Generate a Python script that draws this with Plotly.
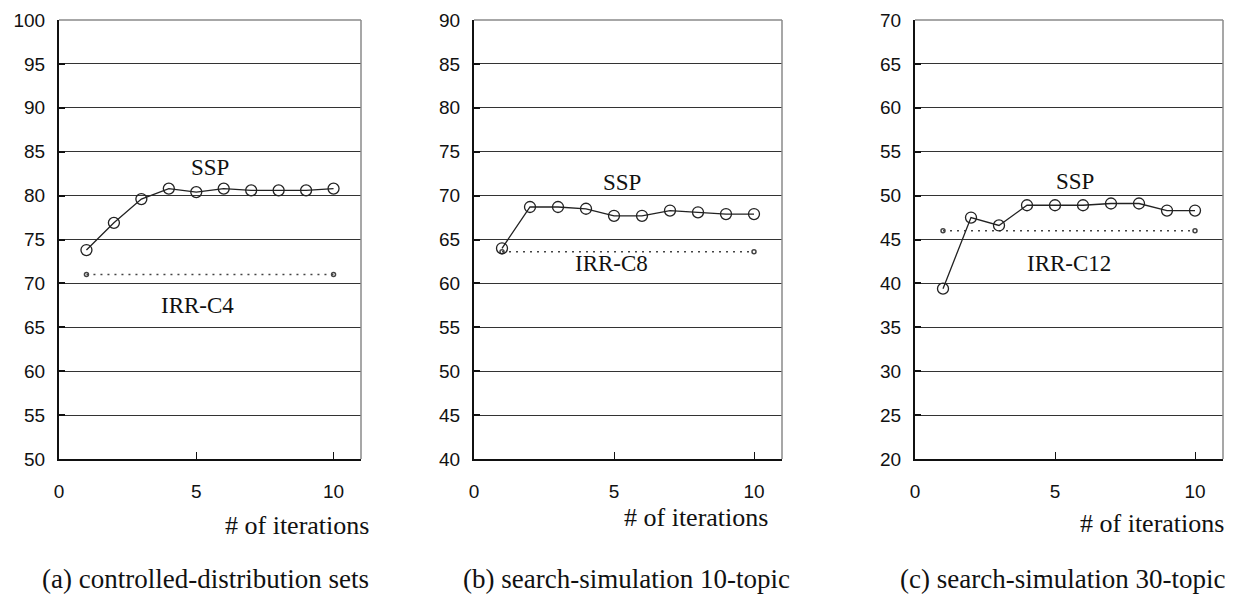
import plotly.graph_objects as go

iterations = [1, 2, 3, 4, 5, 6, 7, 8, 9, 10]

ssp_a = [73.8, 76.9, 79.6, 80.8, 80.4, 80.8, 80.6, 80.6, 80.6, 80.8]
ssp_b = [64.0, 68.7, 68.7, 68.5, 67.7, 67.7, 68.3, 68.1, 67.9, 67.9]
ssp_c = [39.4, 47.5, 46.6, 48.9, 48.9, 48.9, 49.1, 49.1, 48.3, 48.3]

irr_a = 71.0
irr_b = 63.6
irr_c = 46.0

irr_names = ["IRR-C4", "IRR-C8", "IRR-C12"]
captions = ["(a) controlled-distribution sets",
            "(b) search-simulation 10-topic",
            "(c) search-simulation 30-topic"]
y_ranges = [(50, 100), (40, 90), (20, 70)]
x_ticks = [0, 5, 10]

# label positions (data coords)
ssp_label_pos = [(5.5, 83.2), (5.27, 71.5), (5.7, 51.65)]
irr_label_pos = [(5.05, 67.5), (4.9, 62.3), (5.5, 42.3)]

W, H = 1239, 595
px_x = [(59, 361), (474, 782), (915, 1223)]
top_px, bot_px = 20, 459
ydom = [1 - bot_px / H, 1 - top_px / H]

TICKFONT = dict(family="Liberation Sans Narrow, Arial Narrow, Liberation Sans", size=19, color="#111")
SERIF = "Liberation Serif, Times New Roman, serif"

fig = go.Figure()
ssp_all = [ssp_a, ssp_b, ssp_c]
irr_all = [irr_a, irr_b, irr_c]

shapes = []
annotations = []
for i in range(3):
    xa = "x" if i == 0 else f"x{i+1}"
    ya = "y" if i == 0 else f"y{i+1}"
    xkey = "xaxis" if i == 0 else f"xaxis{i+1}"
    ykey = "yaxis" if i == 0 else f"yaxis{i+1}"
    x0, x1 = px_x[i]
    lo, hi = y_ranges[i]

    # IRR baseline (dotted)
    fig.add_trace(go.Scatter(
        x=[iterations[0], iterations[-1]], y=[irr_all[i], irr_all[i]],
        mode="lines+markers", xaxis=xa, yaxis=ya, showlegend=False,
        line=dict(color="#444", width=1.5, dash="2px,5px"),
        marker=dict(symbol="circle-open", size=4, color="#444", line=dict(width=1.5)),
    ))
    # SSP series
    fig.add_trace(go.Scatter(
        x=iterations, y=ssp_all[i], mode="lines+markers",
        xaxis=xa, yaxis=ya, showlegend=False,
        line=dict(color="#222", width=1.3),
        marker=dict(symbol="circle-open", size=11, color="#222", line=dict(width=1.3)),
    ))

    fig.layout[xkey] = dict(
        domain=[x0 / W, x1 / W], range=[0, 11], anchor=ya,
        tickmode="array", tickvals=x_ticks, ticktext=[str(v) for v in x_ticks],
        ticks="inside", ticklen=7, tickwidth=1.2, tickcolor="#111",
        showline=True, linecolor="#111", linewidth=2,
        showgrid=False, zeroline=False, tickfont=TICKFONT,
        ticklabelstandoff=14, fixedrange=True, automargin=False,
    )
    fig.layout[ykey] = dict(
        domain=ydom, range=[lo, hi], anchor=xa,
        tickmode="linear", tick0=lo, dtick=5,
        ticks="inside", ticklen=6, tickwidth=1.5, tickcolor="#111",
        showline=True, linecolor="#111", linewidth=2,
        showgrid=True, gridcolor="#333", gridwidth=1,
        zeroline=False, tickfont=TICKFONT, ticklabelstandoff=8,
        fixedrange=True, automargin=False,
    )

    # gray right and top borders
    shapes.append(dict(type="line", xref=f"{xa} domain", yref=f"{ya} domain",
                       x0=1, x1=1, y0=0, y1=1, line=dict(color="#8a8a8a", width=1.5)))
    shapes.append(dict(type="line", xref=f"{xa} domain", yref=f"{ya} domain",
                       x0=0, x1=1, y0=1, y1=1, line=dict(color="#8a8a8a", width=1.5)))

    # series labels
    annotations.append(dict(x=ssp_label_pos[i][0], y=ssp_label_pos[i][1], xref=xa, yref=ya,
                            text="SSP", showarrow=False,
                            font=dict(family=SERIF, size=23, color="#111")))
    annotations.append(dict(x=irr_label_pos[i][0], y=irr_label_pos[i][1], xref=xa, yref=ya,
                            text=irr_names[i], showarrow=False,
                            font=dict(family=SERIF, size=23, color="#111")))

# axis titles and captions
xt_y = [525, 517, 523]
xt_right = [371, 770, 1226]
cap_center = [206, 626, 1062]
for i in range(3):
    annotations.append(dict(x=xt_right[i] / W, y=1 - xt_y[i] / H, xref="paper", yref="paper",
                            xanchor="right", yanchor="middle", text="# of iterations",
                            showarrow=False, font=dict(family=SERIF, size=26, color="#111")))
    annotations.append(dict(x=cap_center[i] / W, y=1 - 579 / H, xref="paper", yref="paper",
                            xanchor="center", yanchor="middle", text=captions[i],
                            showarrow=False, font=dict(family=SERIF, size=27, color="#111")))

fig.update_layout(
    width=W, height=H, margin=dict(l=0, r=0, t=0, b=0),
    paper_bgcolor="white", plot_bgcolor="white",
    shapes=shapes, annotations=annotations,
)

fig.write_html("out.html")
